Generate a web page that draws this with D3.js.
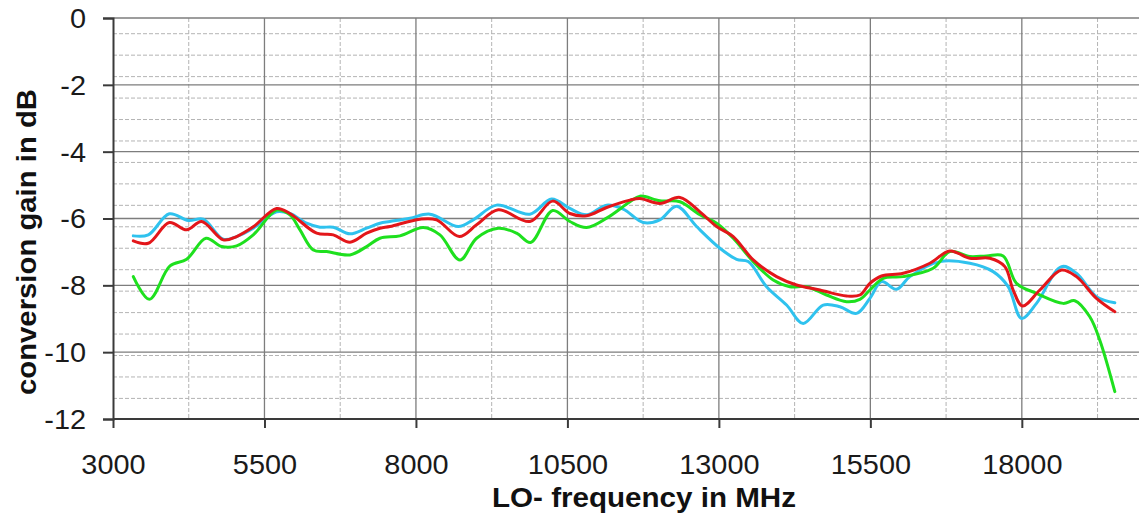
<!DOCTYPE html>
<html><head><meta charset="utf-8">
<script src="https://cdn.jsdelivr.net/npm/d3@7"></script>
<style>
html,body{margin:0;padding:0;background:#fff;overflow:hidden}
text{font-family:"Liberation Sans",Arial,sans-serif}
</style></head>
<body><svg id="c" width="1139" height="522"></svg>
<script>
const xTicks = [3000, 5500, 8000, 10500, 13000, 15500, 18000];
const yTicks = [0, -2, -4, -6, -8, -10, -12];
const xLabel = "LO- frequency in MHz";
const yLabel = "conversion gain in dB";

const cyanF = [3335,3583,3930,4243,4490,4820,5040,5315,5700,5920,6196,6416,6636,6911,7186,7406,7571,7901,8231,8699,8946,9331,9881,10239,10541,10817,11147,11421,11751,12026,12302,12632,13017,13292,13484,13787,14117,14392,14722,14997,15272,15492,15685,15932,16152,16647,17142,17527,17775,17995,18242,18655,18902,19232,19535];
const cyanV = [-6.52,-6.49,-5.86,-6.06,-6.02,-6.62,-6.54,-6.29,-5.80,-5.85,-6.14,-6.26,-6.26,-6.46,-6.29,-6.14,-6.09,-5.99,-5.87,-6.24,-6.04,-5.60,-5.87,-5.42,-5.70,-5.89,-5.60,-5.72,-6.12,-6.04,-5.63,-6.24,-6.89,-7.22,-7.29,-8.04,-8.59,-9.14,-8.59,-8.64,-8.84,-8.39,-7.89,-8.12,-7.74,-7.29,-7.34,-7.59,-8.04,-8.99,-8.54,-7.44,-7.64,-8.34,-8.52];

const redF = [3335,3583,3930,4216,4463,4820,5040,5315,5700,5920,6361,6636,6911,7186,7406,7571,8066,8341,8715,9001,9358,9881,10256,10541,10817,11147,11532,11697,12026,12357,12687,12962,13237,13567,13952,14282,14667,15107,15327,15492,15685,16042,16482,16812,17142,17472,17720,17857,18012,18297,18655,18902,19232,19535];
const redV = [-6.67,-6.74,-6.12,-6.34,-6.09,-6.64,-6.54,-6.25,-5.70,-5.85,-6.44,-6.49,-6.71,-6.44,-6.29,-6.24,-6.02,-6.04,-6.54,-6.19,-5.74,-6.09,-5.48,-5.85,-5.92,-5.67,-5.45,-5.40,-5.55,-5.37,-5.80,-6.24,-6.54,-7.24,-7.74,-7.99,-8.14,-8.32,-8.29,-7.94,-7.72,-7.64,-7.34,-6.97,-7.19,-7.19,-7.44,-8.14,-8.62,-8.14,-7.54,-7.74,-8.39,-8.79];

const greenF = [3335,3600,3941,4216,4535,4793,5040,5315,5700,5920,6086,6306,6526,6911,7186,7406,7736,8121,8396,8726,9001,9358,9661,9893,10256,10541,10817,11147,11532,11697,12026,12357,12687,12962,13237,13567,13897,14172,14447,14777,15107,15327,15492,15712,16042,16537,16812,17142,17417,17692,17912,18242,18682,18875,19122,19287,19535];
const greenV = [-7.74,-8.42,-7.42,-7.22,-6.59,-6.84,-6.82,-6.49,-5.75,-5.89,-6.34,-6.94,-6.99,-7.09,-6.84,-6.59,-6.52,-6.27,-6.49,-7.24,-6.59,-6.29,-6.44,-6.72,-5.76,-6.09,-6.27,-5.99,-5.50,-5.33,-5.47,-5.50,-5.89,-6.14,-6.59,-7.29,-7.84,-8.04,-8.04,-8.29,-8.49,-8.42,-8.14,-7.79,-7.74,-7.49,-6.99,-7.14,-7.12,-7.12,-7.94,-8.24,-8.54,-8.46,-8.94,-9.64,-11.18];

const series = [
  {name:"cyan", f:cyanF, v:cyanV, color:"#2fc2ee"},
  {name:"green", f:greenF, v:greenV, color:"#1ee01e"},
  {name:"red", f:redF, v:redV, color:"#e3161a"}
];

const svg = d3.select("#c");
const L = 113, R = 1143, T = 18, B = 419;
const x = d3.scaleLinear().domain([3000, 20000]).range([L, R]);
const y = d3.scaleLinear().domain([-12, 0]).range([B, T]);

// minor (dashed) grid
const minorY = d3.range(18).map(k => -0.47 - 0.642 * k);
const minorX = d3.range(3000 + 1250, 20000, 2500);
const g = svg.append("g");
g.selectAll(".my").data(minorY).join("line")
  .attr("x1", L).attr("x2", R).attr("y1", d => y(d)).attr("y2", d => y(d))
  .attr("stroke", "#b4b4b4").attr("stroke-width", 1).attr("stroke-dasharray", "4,2");
g.selectAll(".mx").data(minorX).join("line")
  .attr("y1", T).attr("y2", B).attr("x1", d => x(d)).attr("x2", d => x(d))
  .attr("stroke", "#b4b4b4").attr("stroke-width", 1).attr("stroke-dasharray", "4,2");
// major grid
g.selectAll(".My").data(yTicks.filter(d => d > -12)).join("line")
  .attr("x1", L).attr("x2", R).attr("y1", d => y(d)).attr("y2", d => y(d))
  .attr("stroke", "#7d7d7d").attr("stroke-width", 1.3);
g.selectAll(".Mx").data(xTicks.slice(1)).join("line")
  .attr("y1", T).attr("y2", B).attr("x1", d => x(d)).attr("x2", d => x(d))
  .attr("stroke", "#7d7d7d").attr("stroke-width", 1.3);

// lines
const line = d3.line().curve(d3.curveCatmullRom.alpha(0.5))
  .x(d => x(d[0])).y(d => y(d[1]));
series.forEach(s => {
  const pts = s.f.map((f, i) => [f, s.v[i]]);
  svg.append("path").datum(pts).attr("d", line)
    .attr("fill", "none").attr("stroke", s.color).attr("stroke-width", 3)
    .attr("stroke-linejoin", "round").attr("stroke-linecap", "round");
});

// axes
const xAxis = d3.axisBottom(x).tickValues(xTicks).tickSize(9).tickPadding(27).tickFormat(d3.format("d"));
const yAxis = d3.axisLeft(y).tickValues(yTicks).tickSize(10).tickPadding(17).tickFormat(d => String(d));
const gx = svg.append("g").attr("transform", `translate(0,${B})`).call(xAxis);
const gy = svg.append("g").attr("transform", `translate(${L},0)`).call(yAxis);
[gx, gy].forEach(a => {
  a.select(".domain").attr("stroke", "#3a3a3a").attr("stroke-width", 2);
  a.selectAll(".tick line").attr("stroke", "#3a3a3a").attr("stroke-width", 2);
  a.selectAll(".tick text").attr("fill", "#1a1a1a").style("font-size", "27px")
    .style("font-family", "'Liberation Sans',Arial,sans-serif");
});
gx.selectAll(".tick text").attr("dy", "0.71em").attr("transform", "scale(1.07,1)");
gy.selectAll(".tick text").attr("dy", "0.35em").attr("x", -27).attr("transform", "translate(-27,0) scale(1.07,1) translate(27,0)");
gx.select(".domain").attr("d", `M${L},0H${R}`);

svg.append("text").attr("x", 644).attr("y", 507).attr("text-anchor", "middle")
  .attr("textLength", 304).attr("lengthAdjust", "spacingAndGlyphs")
  .style("font-size", "27px").style("font-weight", "bold").attr("fill", "#111").text(xLabel);
svg.append("text").attr("transform", "translate(36,242) rotate(-90)").attr("text-anchor", "middle")
  .attr("textLength", 306).attr("lengthAdjust", "spacingAndGlyphs")
  .style("font-size", "27px").style("font-weight", "bold").attr("fill", "#111").text(yLabel);
</script></body></html>
